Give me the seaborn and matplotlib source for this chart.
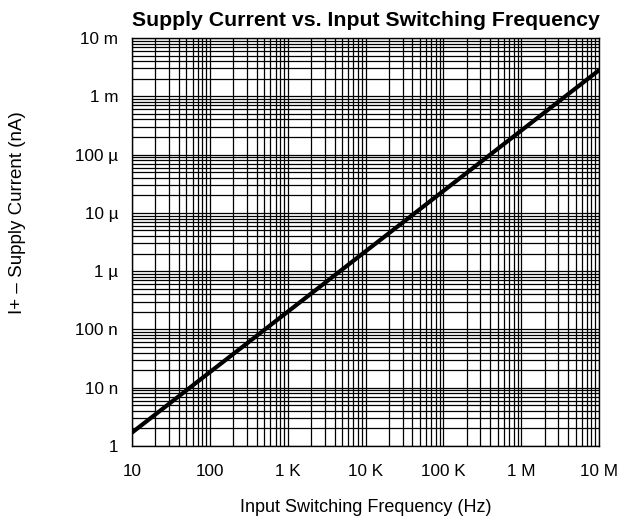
import matplotlib
matplotlib.use("Agg")
import matplotlib.pyplot as plt
import seaborn as sns
import pandas as pd
import numpy as np
from matplotlib.ticker import LogLocator, NullFormatter, FixedLocator, FixedFormatter

sns.set_theme(style="white")
plt.rcParams['font.family'] = ['Liberation Sans', 'DejaVu Sans']

# Data
freq_hz = [10, 10_000_000]
supply_current = [1.7, 2.8e6]

x_tick_values = [10, 100, 1e3, 1e4, 1e5, 1e6, 1e7]
x_tick_labels = ["10", "100", "1 K", "10 K", "100 K", "1 M", "10 M"]
y_tick_values = [1, 10, 100, 1e3, 1e4, 1e5, 1e6, 1e7]
y_tick_labels = ["1", "10 n", "100 n", "1 µ", "10 µ", "100 µ", "1 m", "10 m"]

df = pd.DataFrame({"freq": freq_hz, "current": supply_current})

fig = plt.figure(figsize=(6.25, 5.21), dpi=100)
ax = fig.add_axes([132/625, 1-446/521, (599-132)/625, (446-38)/521])

ax.set_xscale("log")
ax.set_yscale("log")
ax.set_xlim(10, 1e7)
ax.set_ylim(1, 1e7)

ax.xaxis.set_major_locator(FixedLocator(x_tick_values))
ax.xaxis.set_major_formatter(FixedFormatter(x_tick_labels))
ax.yaxis.set_major_locator(FixedLocator(y_tick_values))
ax.yaxis.set_major_formatter(FixedFormatter(y_tick_labels))
ax.xaxis.set_minor_locator(LogLocator(base=10, subs=np.arange(2, 10), numticks=100))
ax.yaxis.set_minor_locator(LogLocator(base=10, subs=np.arange(2, 10), numticks=100))
ax.xaxis.set_minor_formatter(NullFormatter())
ax.yaxis.set_minor_formatter(NullFormatter())

ax.grid(True, which="both", color="black", linewidth=0.9)
ax.set_axisbelow(True)

sns.lineplot(data=df, x="freq", y="current", ax=ax, color="black", linewidth=3.0)

for s in ax.spines.values():
    s.set_color("black")
    s.set_linewidth(1.0)

ax.tick_params(axis="both", which="both", length=0, labelsize=12.3, colors="black")
ax.tick_params(axis="x", pad=13)
ax.tick_params(axis="y", pad=10)

ax.set_xlabel("Input Switching Frequency (Hz)", fontsize=13, color="black")
ax.set_ylabel("I+ – Supply Current (nA)", fontsize=13.5, color="black")
ax.xaxis.set_label_coords(0.5, -(499 - 446) / 408)
ax.yaxis.set_label_coords((26 - 132) / 467, (446 - 213) / 408)
ax.set_title("Supply Current vs. Input Switching Frequency", fontsize=15.3,
             fontweight="bold", pad=9, color="black")

fig.savefig("out.png", dpi=100)
